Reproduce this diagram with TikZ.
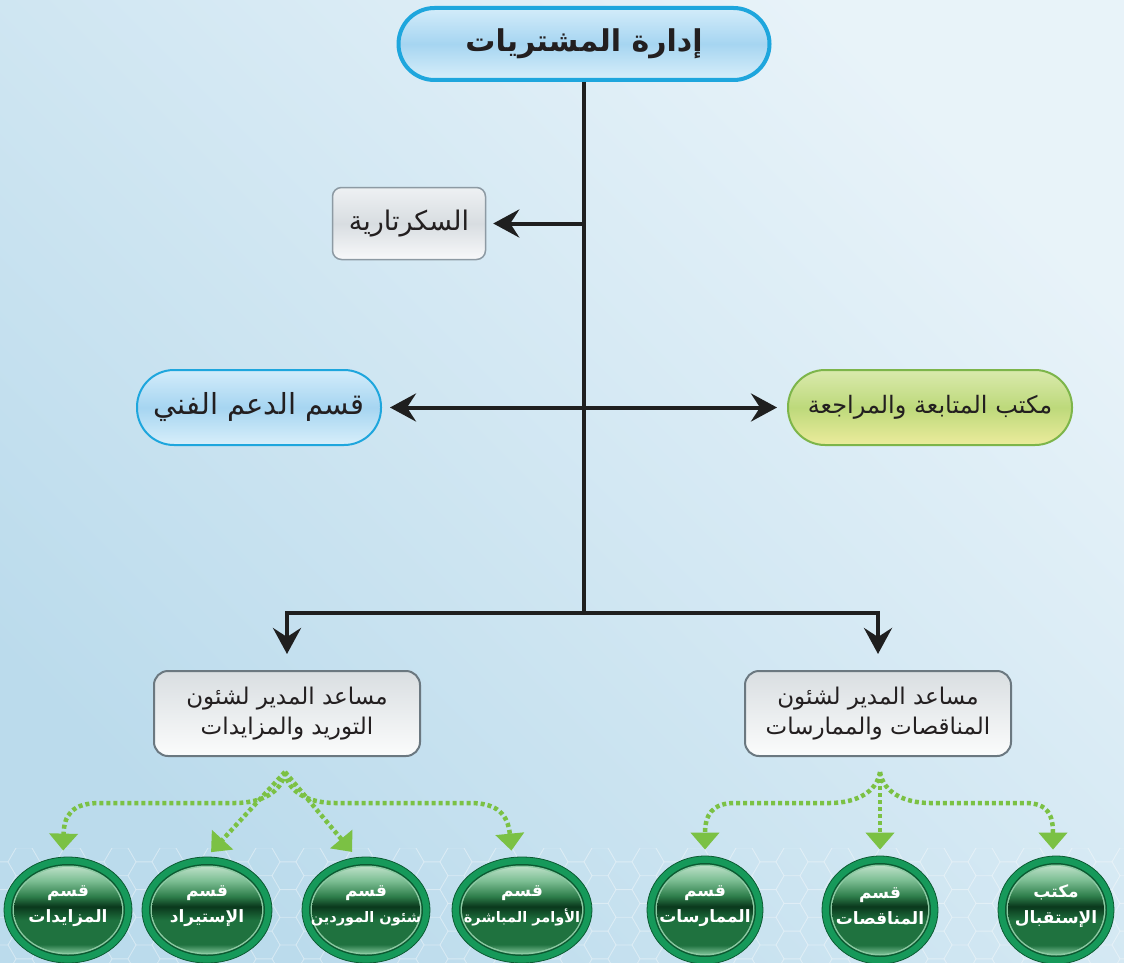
\documentclass[tikz,border=0pt]{standalone}
\usepackage{fontspec}
\usetikzlibrary{arrows.meta,shapes.geometric,calc}
\TeXXeTstate=1
\newfontfamily\arfont[Script=Arabic]{DejaVu Sans}
\newcommand\AR[1]{\beginR #1\endR}

\definecolor{bgTop}{HTML}{E8F3F9}
\definecolor{bgBot}{HTML}{BBDBEC}
\definecolor{blueBorder}{HTML}{1EA6DD}
\definecolor{blueTop}{HTML}{D3ECFA}
\definecolor{blueMid}{HTML}{A6D5F1}
\definecolor{blueBot}{HTML}{D8EFFA}
\definecolor{grayBorder}{HTML}{8D9AA3}
\definecolor{grayTop}{HTML}{EEF1F3}
\definecolor{grayMid}{HTML}{D8DDE1}
\definecolor{grayBot}{HTML}{F8F9FA}
\definecolor{limeBorder}{HTML}{7DB54A}
\definecolor{limeTop}{HTML}{DAEAAD}
\definecolor{limeMid}{HTML}{BDD97B}
\definecolor{limeBot}{HTML}{ECEC9C}
\definecolor{asstBorder}{HTML}{6B7880}
\definecolor{asstTop}{HTML}{D9DEE1}
\definecolor{asstBot}{HTML}{FBFCFC}
\definecolor{txt}{HTML}{231F20}
\definecolor{dotGreen}{HTML}{7BC144}
\definecolor{ringGreen}{HTML}{16995A}
\definecolor{ringDark}{HTML}{0B5A31}
\definecolor{ringLight}{HTML}{8CC9A2}
\definecolor{ballTop}{HTML}{B9DEC5}
\definecolor{ballHi}{HTML}{7CBE93}
\definecolor{ballUp}{HTML}{2E7E4B}
\definecolor{ballBand}{HTML}{0A381C}
\definecolor{ballLow}{HTML}{1F723F}
\definecolor{ballRim}{HTML}{7CC096}

% glossy shading of the green section balls (bottom to top)
\pgfdeclareverticalshading{ballshade}{100bp}{%
  color(0bp)=(ballRim); color(25bp)=(ballRim); color(30bp)=(ballLow);
  color(44bp)=(ballLow); color(52bp)=(ballBand); color(58bp)=(ballUp);
  color(67bp)=(ballHi); color(75bp)=(ballTop); color(100bp)=(ballTop)}

\tikzset{
  blk/.style={line width=4pt, draw=black!88},
  tipblk/.style={-{Stealth[length=26pt,width=28pt,inset=9pt]}},
  titlebox/.style={draw=blueBorder, line width=4pt, rounded corners=36pt,
    top color=blueTop, bottom color=blueBot, middle color=blueMid,
    minimum width=371pt, minimum height=72pt, text=txt,
    font=\arfont\bfseries\fontsize{30}{33}\selectfont},
  secbox/.style={draw=grayBorder, line width=1.5pt, rounded corners=9pt,
    top color=grayTop, bottom color=grayBot, middle color=grayMid,
    minimum width=153pt, minimum height=72pt, text=txt,
    font=\arfont\fontsize{27}{30}\selectfont},
  bluepill/.style={draw=blueBorder, line width=2pt, rounded corners=37pt,
    top color=blueTop, bottom color=blueBot, middle color=blueMid,
    minimum width=244pt, minimum height=75pt, text=txt,
    font=\arfont\fontsize{29}{32}\selectfont},
  limepill/.style={draw=limeBorder, line width=2pt, rounded corners=37pt,
    top color=limeTop, bottom color=limeBot, middle color=limeMid,
    minimum width=284pt, minimum height=75pt, text=txt,
    font=\arfont\fontsize{24}{27}\selectfont},
  asstbox/.style={draw=asstBorder, line width=2pt, rounded corners=14pt,
    top color=asstTop, bottom color=asstBot,
    minimum width=266pt, minimum height=85pt, text=txt, align=center,
    font=\arfont\fontsize{23}{30}\selectfont},
  ballnode/.style={ellipse, inner sep=0pt, draw=ringDark, line width=0.8pt},
  balltext/.style={text=white, align=center, inner sep=0pt,
    font=\arfont\bfseries\fontsize{17}{26}\selectfont},
  gline/.style={draw=dotGreen, line width=4.5pt, dash pattern=on 4pt off 3pt,
    -{Triangle[length=17pt,width=28pt]}, shorten >=6pt},
  hexline/.style={draw=white, line width=0.9pt, opacity=0.22}
}

\begin{document}
\begin{tikzpicture}[x=1pt,y=-1pt]
\useasboundingbox (0,0) rectangle (1124,963);
\shade[top color=bgTop, bottom color=bgBot, shading angle=-45] (0,0) rectangle (1124,963);

% faint honeycomb along the bottom edge
\begin{scope}
  \clip (0,848) rectangle (1124,963);
  \foreach \i in {0,...,47} \foreach \j in {0,...,5} {
    \pgfmathsetmacro\hx{24*\i}
    \pgfmathsetmacro\hy{848+27.7*\j+mod(\i,2)*13.85}
    \draw[hexline] (\hx,\hy) +(0:16) -- +(60:16) -- +(120:16) -- +(180:16)
      -- +(240:16) -- +(300:16) -- cycle;
  }
\end{scope}

% main boxes
\node[titlebox] (top) at (584,44) {\AR{إدارة المشتريات}};
\node[secbox] (sec) at (409,223.5) {\AR{السكرتارية}};
\node[bluepill] (tech) at (259,407.5) {\AR{قسم الدعم الفني}};
\node[limepill] (foll) at (930,407.5) {\AR{مكتب المتابعة والمراجعة}};
\node[asstbox] (asstL) at (287,713.5) {\AR{مساعد المدير لشئون}\\\AR{التوريد والمزايدات}};
\node[asstbox] (asstR) at (878,713.5) {\AR{مساعد المدير لشئون}\\\AR{المناقصات والممارسات}};

% black connectors
\coordinate (ts) at (584,223.5);
\coordinate (j) at (584,613);
\draw[blk] (top.south) -- (j);
\draw[blk, tipblk, shorten >=7pt] (ts) -- (sec.east);
\draw[blk, {Stealth[length=26pt,width=28pt,inset=9pt]}-{Stealth[length=26pt,width=28pt,inset=9pt]},
  shorten <=8pt, shorten >=10pt] (tech.east) -- (foll.west);
\draw[blk, tipblk, shorten >=16pt] (j) -| (asstL.north);
\draw[blk, tipblk, shorten >=16pt] (j) -| (asstR.north);

% green section balls
\foreach \nm/\cx/\w/\h/\fs/\ta/\tb in {
  c1/68/128/106/17/قسم/المزايدات,
  c2/207/130/106/17/قسم/الإستيراد,
  c3/366/128/106/14.5/قسم/شئون الموردين,
  c4/522/140/106/14.5/قسم/الأوامر المباشرة,
  c5/705/116/108/17/قسم/الممارسات,
  c6/880/116/108/17/قسم/المناقصات,
  c7/1056/116/108/17/مكتب/الإستقبال} {
  \fill[ringGreen] (\cx,910) ellipse ({\w/2} and {\h/2});
  \fill[ringDark] (\cx,910) ellipse ({\w/2-7} and {\h/2-7});
  \fill[ringLight] (\cx,910) ellipse ({\w/2-8.5} and {\h/2-8.5});
  \shade[shading=ballshade] (\cx,910) ellipse ({\w/2-10} and {\h/2-10});
  \node[ballnode, minimum width=\w, minimum height=\h] (\nm) at (\cx,910) {};
  \node[balltext] (\nm-t) at (\cx,906)
    {\fontsize{17}{26}\selectfont\AR{\ta}\\\fontsize{\fs}{26}\selectfont\AR{\tb}};
}

% dotted green connectors
\coordinate (s1) at (285,772);
\coordinate (s2) at (880,772);
\draw[gline] (s1) .. controls (282,792) and (262,803) .. (235,803) -- (100,803)
  .. controls (72,803) and (64,815) .. ([xshift=-5pt]c1.north);
\draw[gline] (s1) -- (c2.north);
\draw[gline] (s1) -- ([xshift=-10pt]c3.north);
\draw[gline] (s1) .. controls (288,792) and (308,803) .. (335,803) -- (470,803)
  .. controls (498,803) and (508,815) .. ([xshift=-10pt]c4.north);
\draw[gline] (s2) .. controls (877,792) and (856,803) .. (830,803) -- (735,803)
  .. controls (712,803) and (705,815) .. (c5.north);
\draw[gline] (s2) -- (c6.north);
\draw[gline] (s2) .. controls (883,792) and (904,803) .. (930,803) -- (1025,803)
  .. controls (1048,803) and (1053,815) .. ([xshift=-3pt]c7.north);
\end{tikzpicture}
\end{document}
